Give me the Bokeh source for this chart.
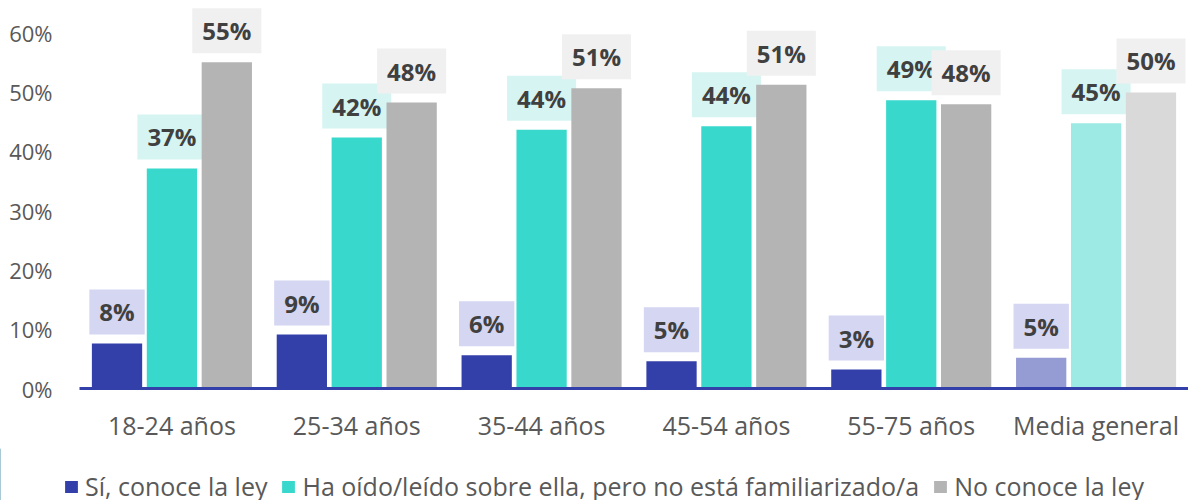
from bokeh.plotting import figure
from bokeh.models import (ColumnDataSource, FactorRange, Range1d, Legend, LegendItem,
                          PrintfTickFormatter, FixedTicker)
from bokeh.layouts import column
from bokeh.transform import dodge
from bokeh.core.properties import value
from bokeh.embed import file_html
from bokeh.resources import INLINE

categories = ["18-24 años", "25-34 años", "35-44 años", "45-54 años", "55-75 años", "Media general"]
series_names = ["Sí, conoce la ley",
                "Ha oído/leído sobre ella, pero no está familiarizado/a",
                "No conoce la ley"]
si_conoce = [7.6, 9.1, 5.6, 4.6, 3.2, 5.2]
ha_oido = [37.1, 42.3, 43.6, 44.2, 48.6, 44.7]
no_conoce = [55.0, 48.2, 50.6, 51.2, 47.9, 49.9]
y_ticks = [0, 10, 20, 30, 40, 50, 60]

series_values = [si_conoce, ha_oido, no_conoce]
main_colors = ["#3340A9", "#38D9CC", "#B4B4B4"]
light_colors = ["#959CD3", "#9CEAE3", "#D9D9D9"]
label_bgs = ["#D4D6F2", "#D6F5F2", "#F0F0F0"]
offsets = [-0.297, 0.0, 0.297]

FONT = "Open Sans"

p = figure(x_range=FactorRange(*categories), y_range=Range1d(0, 65.4),
           frame_width=1109, frame_height=388, output_backend="svg", toolbar_location=None,
           min_border_left=79, min_border_right=0, min_border_top=0, min_border_bottom=60,
           frame_align=False)
p.outline_line_color = None
p.xgrid.grid_line_color = None
p.ygrid.grid_line_color = None
p.background_fill_color = "white"

for i, vals in enumerate(series_values):
    colors = [light_colors[i] if c == "Media general" else main_colors[i] for c in categories]
    src = ColumnDataSource(dict(cat=categories, val=vals, color=colors,
                                label=[f"{round(v)}%" for v in vals],
                                bg=[label_bgs[i]] * len(vals)))
    p.vbar(x=dodge("cat", offsets[i], range=p.x_range), top="val", width=0.272,
           source=src, fill_color="color", line_color=None)
    p.text(x=dodge("cat", offsets[i], range=p.x_range), y="val", text="label", source=src,
           text_align="center", text_baseline="bottom", y_offset=-9,
           text_font=value(FONT), text_font_style="bold", text_font_size="24px",
           text_color="#404040", background_fill_color="bg",
           padding=dict(left=10, right=10, top=6, bottom=6))

p.yaxis.ticker = FixedTicker(ticks=y_ticks)
p.yaxis.formatter = PrintfTickFormatter(format="%d%%")
p.yaxis.axis_line_color = None
p.yaxis.major_tick_line_color = None
p.yaxis.minor_tick_line_color = None
p.yaxis.major_label_text_font = FONT
p.yaxis.major_label_text_font_size = "22px"
p.yaxis.major_label_text_color = "#595959"
p.yaxis.major_label_standoff = 21

p.xaxis.axis_line_color = "#3340A9"
p.xaxis.axis_line_width = 3
p.xaxis.major_tick_line_color = None
p.xaxis.minor_tick_line_color = None
p.xaxis.major_label_text_font = FONT
p.xaxis.major_label_text_font_size = "25px"
p.xaxis.major_label_text_color = "#595959"
p.xaxis.major_label_standoff = 13

# legend strip below the chart
leg = figure(width=1188, height=52, x_range=(0, 1), y_range=(0, 1),
             x_axis_location=None, y_axis_location=None,
             output_backend="svg", toolbar_location=None, frame_align=False,
             min_border_left=0, min_border_right=0, min_border_top=0, min_border_bottom=0)
leg.xgrid.grid_line_color = None
leg.ygrid.grid_line_color = None
leg.outline_line_color = None
swatches = [leg.vbar(x=[-10], top=[1], width=0.1, fill_color=main_colors[i], line_color=None)
            for i in range(3)]
legend = Legend(items=[LegendItem(label=series_names[i], renderers=[swatches[i]])
                       for i in range(3)],
                orientation="horizontal", location=(63, -3),
                label_text_font=FONT, label_text_font_size="25px", label_text_color="#595959",
                glyph_width=16, glyph_height=15, label_standoff=6, spacing=13,
                padding=0, margin=0, border_line_color=None, background_fill_alpha=0)
leg.add_layout(legend, "center")

layout = column(p, leg, spacing=0)
open("out.html", "w").write(file_html(layout, INLINE))
